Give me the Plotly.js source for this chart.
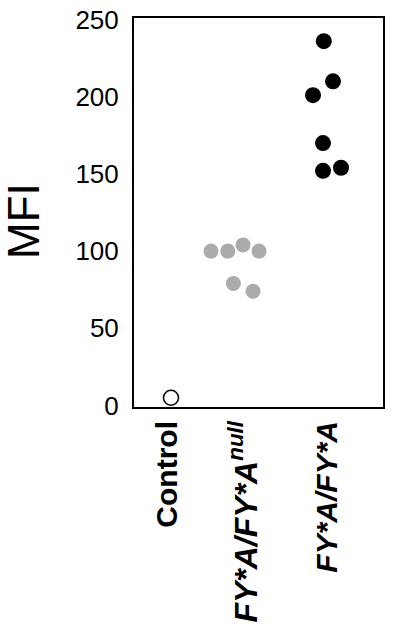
<!DOCTYPE html>
<html>
<head>
<meta charset="utf-8">
<script src="https://cdn.plot.ly/plotly-3.0.1.min.js"></script>
<style>html,body{margin:0;padding:0;background:#fff;}#chart{width:400px;height:631px;}</style>
</head>
<body>
<div id="chart"></div>
<script>
var categories = ['Control', '<span style="font-size:32px"><i>FY*A/FY*A<sup>null</sup></i></span>', '<i>FY*A/FY*A</i>'];
var categoryPos = [0, 1, 2];
var yTicks = [0, 50, 100, 150, 200, 250];
var yTitle = 'MFI';

var controlX = [0.05];
var controlY = [5];

var hetX = [0.55, 0.76, 0.95, 1.15, 0.83, 1.075];
var hetY = [100, 100, 104, 100, 79, 74];

var homX = [1.96, 2.075, 1.825, 1.95, 1.95, 2.175];
var homY = [236, 210, 201, 170, 152, 154];

var traces = [
  {x: controlX, y: controlY, mode: 'markers', type: 'scatter',
   marker: {size: 15, color: '#ffffff', line: {color: '#000000', width: 1.5}}},
  {x: hetX, y: hetY, mode: 'markers', type: 'scatter',
   marker: {size: 15, color: '#ababab', line: {width: 0}}},
  {x: homX, y: homY, mode: 'markers', type: 'scatter',
   marker: {size: 16, color: '#000000', line: {width: 0}}}
];

var layout = {
  width: 400, height: 631,
  margin: {l: 134, r: 17, t: 18, b: 224},
  paper_bgcolor: '#ffffff', plot_bgcolor: '#ffffff',
  showlegend: false,
  font: {family: 'Liberation Sans, Arial, sans-serif', color: '#000'},
  xaxis: {
    range: [-0.4125, 2.7],
    tickvals: categoryPos, ticktext: categories,
    tickangle: -90,
    tickfont: {size: 30, family: 'Liberation Sans, Arial, sans-serif', weight: 'bold', color: '#000'},
    showgrid: false, zeroline: false, ticks: '',
    showline: true, mirror: true, linecolor: '#000', linewidth: 2
  },
  yaxis: {
    range: [-1, 251],
    tickvals: yTicks,
    tickfont: {size: 26, color: '#000'},
    showgrid: false, zeroline: false, ticks: '',
    ticklabelstandoff: 8,
    showline: true, mirror: true, linecolor: '#000', linewidth: 2
  },
  annotations: [{
    text: yTitle, xref: 'paper', yref: 'y', x: -0.442, y: 119.5,
    xanchor: 'center', yanchor: 'middle', textangle: -90, showarrow: false,
    font: {size: 44, color: '#000', family: 'Liberation Sans, Arial, sans-serif'}
  }]
};

Plotly.newPlot('chart', traces, layout, {displayModeBar: false, staticPlot: true});
</script>
</body>
</html>
